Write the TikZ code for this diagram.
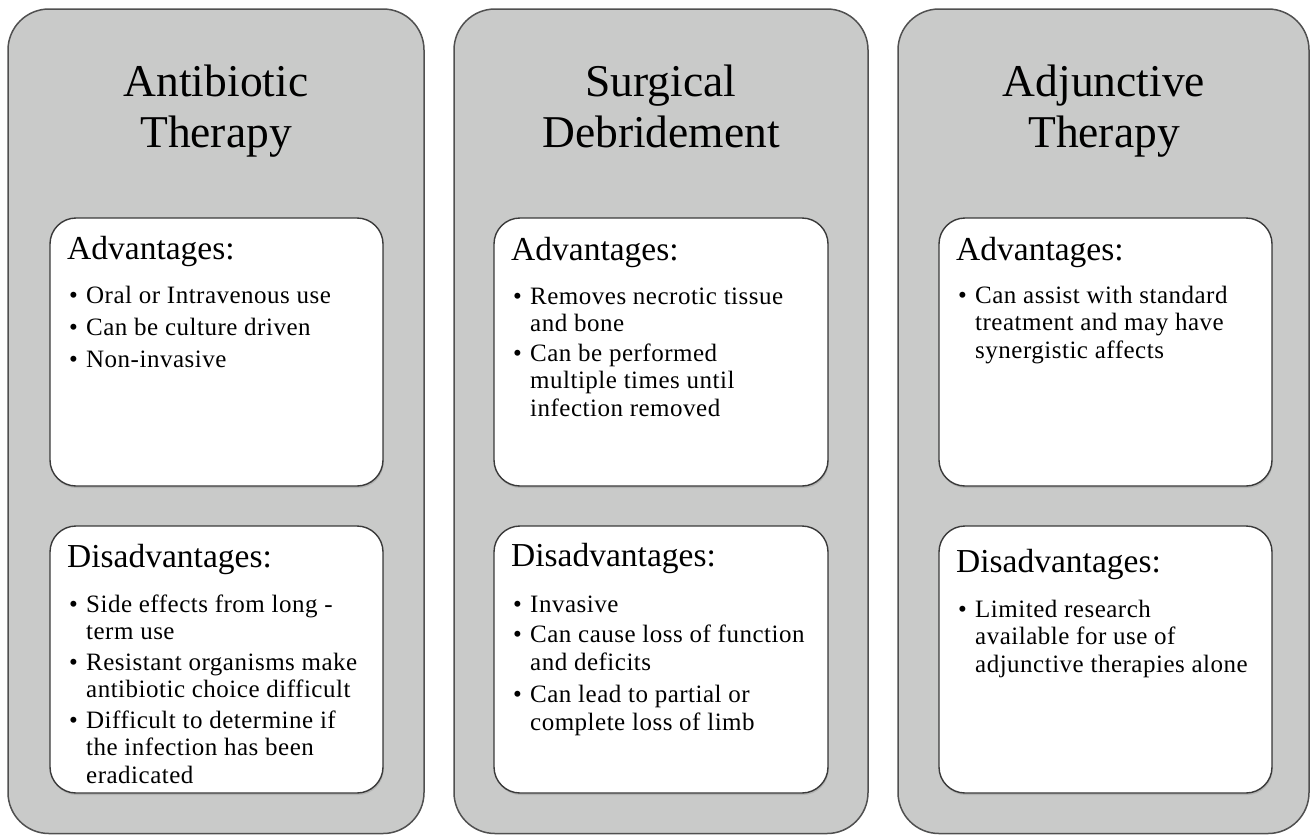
\documentclass[tikz,border=0pt]{standalone}
\usepackage{fontspec}
\setmainfont{Liberation Serif}
\newfontfamily\bodyfont[LetterSpace=2]{Liberation Serif}
\usetikzlibrary{shadows}
\definecolor{panelgray}{HTML}{C9CAC9}
\definecolor{panelline}{HTML}{505050}
\definecolor{boxline}{HTML}{3A3A3A}
\tikzset{
  panel/.style={draw=panelline, line width=1.5pt, fill=panelgray, rounded corners=41pt},
  infobox/.style={draw=boxline, line width=1.4pt, fill=white, rounded corners=26pt,
    drop shadow={shadow xshift=0.8pt, shadow yshift=-2pt, opacity=0.3}},
  titletext/.style={anchor=base, inner sep=0pt, font=\fontsize{45.5}{51}\selectfont, text=black},
  headtext/.style={anchor=base west, inner sep=0pt, font=\fontsize{33.5}{40}\selectfont, text=black},
  listtext/.style={anchor=base west, inner sep=0pt, font=\bodyfont\fontsize{25}{27.5}\selectfont, text=black},
}
\newcommand{\bu}{\makebox[17pt][l]{\textbullet}}
\begin{document}
\begin{tikzpicture}[x=1pt,y=-1pt]
\useasboundingbox (0,0) rectangle (1313,836);
% panels
\path[panel] (8,9) rectangle (424,833.5);
\path[panel] (454,9) rectangle (868,833.5);
\path[panel] (898,9) rectangle (1309,833.5);
% inner boxes
\path[infobox] (50,218) rectangle (383,486);
\path[infobox] (50,526) rectangle (383,793);
\path[infobox] (494,218) rectangle (828,486);
\path[infobox] (494,526) rectangle (828,793);
\path[infobox] (939,218) rectangle (1272,486);
\path[infobox] (939,526) rectangle (1272,793);
% titles
\node[titletext] (t1) at (216,96) {\begin{tabular}[t]{@{}c@{}}Antibiotic\\Therapy\end{tabular}};
\node[titletext] (t2) at (661,96) {\begin{tabular}[t]{@{}c@{}}Surgical\\Debridement\end{tabular}};
\node[titletext] (t3) at (1104,96) {\begin{tabular}[t]{@{}c@{}}Adjunctive\\Therapy\end{tabular}};
% headings
\node[headtext] (a1) at (67,259) {Advantages:};
\node[headtext] (d1) at (67,567) {Disadvantages:};
\node[headtext] (a2) at (511,260) {Advantages:};
\node[headtext] (d2) at (511,566) {Disadvantages:};
\node[headtext] (a3) at (956,260) {Advantages:};
\node[headtext] (d3) at (956,572) {Disadvantages:};
% lists
\node[listtext] (la1) at (69,303) {\begin{tabular}[t]{@{}l@{}l@{}}
\bu & Oral or Intravenous use\\[4.5pt]
\bu & Can be culture driven\\[4.5pt]
\bu & Non-invasive
\end{tabular}};
\node[listtext] (ld1) at (69,612) {\begin{tabular}[t]{@{}l@{}l@{}}
\bu & Side effects from long -\\
 & term use\\[3pt]
\bu & Resistant organisms make\\
 & antibiotic choice difficult\\[3pt]
\bu & Difficult to determine if\\
 & the infection has been\\
 & eradicated
\end{tabular}};
\node[listtext] (la2) at (513,304) {\begin{tabular}[t]{@{}l@{}l@{}}
\bu & Removes necrotic tissue\\
 & and bone\\[2pt]
\bu & Can be performed\\
 & multiple times until\\
 & infection removed
\end{tabular}};
\node[listtext] (ld2) at (513,612) {\begin{tabular}[t]{@{}l@{}l@{}}
\bu & Invasive\\[3pt]
\bu & Can cause loss of function\\
 & and deficits\\[5pt]
\bu & Can lead to partial or\\
 & complete loss of limb
\end{tabular}};
\node[listtext] (la3) at (958,303) {\begin{tabular}[t]{@{}l@{}l@{}}
\bu & Can assist with standard\\
 & treatment and may have\\
 & synergistic affects
\end{tabular}};
\node[listtext] (ld3) at (958,617) {\begin{tabular}[t]{@{}l@{}l@{}}
\bu & Limited research\\
 & available for use of\\
 & adjunctive therapies alone
\end{tabular}};
\end{tikzpicture}
\end{document}
